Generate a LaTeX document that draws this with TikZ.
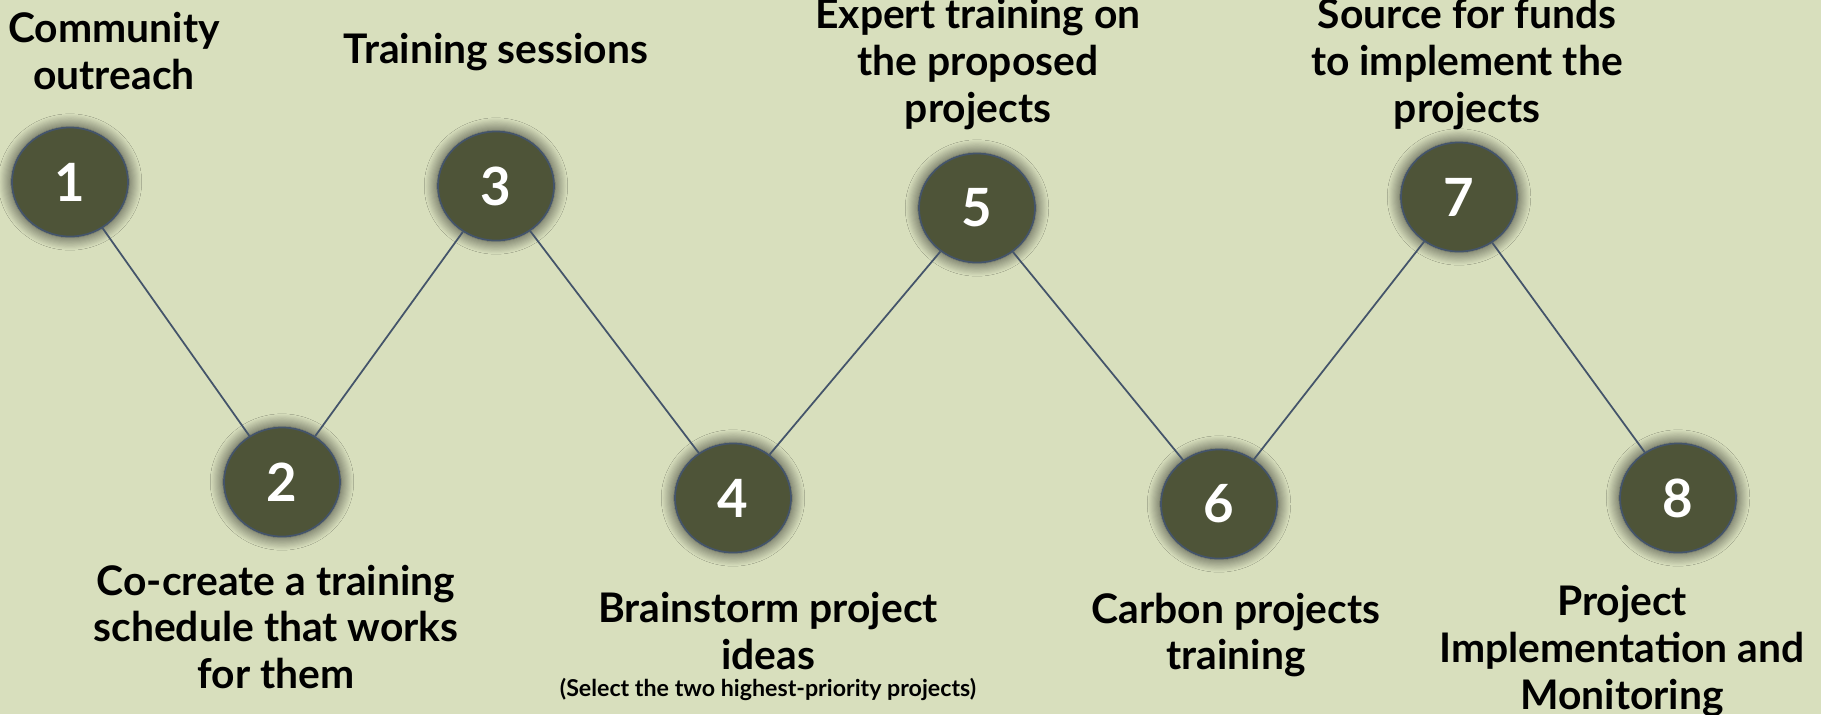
\documentclass[tikz,border=0pt]{standalone}
\usepackage{fontspec}
\setmainfont{Lato}
\usetikzlibrary{shapes.geometric,shadows.blur}
\definecolor{bgsage}{HTML}{D8DFBD}
\definecolor{stepolive}{HTML}{4E5438}
\definecolor{linkslate}{HTML}{44546A}
\tikzset{
  stepnode/.style={ellipse, draw=linkslate, line width=0.5pt, fill=stepolive, text=white,
    minimum width=1.16cm, minimum height=1.09cm, inner sep=0pt,
    font=\fontsize{15}{18}\selectfont\bfseries,
    blur shadow={shadow xshift=0pt, shadow yshift=0pt, shadow blur radius=3.5pt, shadow blur steps=12, shadow scale=1.02, shadow opacity=75}},
  steplabel/.style={align=center, text=black, inner sep=0pt, font=\fontsize{11.6}{13.3}\selectfont\bfseries},
  link/.style={draw=linkslate, line width=0.5pt}
}
\begin{document}
\begin{tikzpicture}[x=0.01cm, y=-0.01cm]
            \fill[bgsage] (0,0) rectangle (1821,714);
            \useasboundingbox (0,0) rectangle (1821,714);
            % steps
            \node[stepnode] (n1) at (70,182) {1};
            \node[stepnode] (n2) at (282,482) {2};
            \node[stepnode] (n3) at (496,186) {3};
            \node[stepnode] (n4) at (733,498) {4};
            \node[stepnode] (n5) at (977,208) {5};
            \node[stepnode] (n6) at (1219,504) {6};
            \node[stepnode] (n7) at (1459,197) {7};
            \node[stepnode] (n8) at (1678,498) {8};
            % zigzag
            \foreach \a/\b in {n1/n2, n2/n3, n3/n4, n4/n5, n5/n6, n6/n7, n7/n8}
                \draw[link] (\a) -- (\b);
            % labels
            \node[steplabel] (t1) at (114,51) {Community\\outreach};
            \node[steplabel] (t3) at (496,52) {Training sessions};
            \node[steplabel] (t5) at (978,64) {Expert training on\\the proposed\\projects};
            \node[steplabel] (t7) at (1467,64) {Source for funds\\to implement the\\projects};
            \node[steplabel] (t2) at (276,627) {Co-create a training\\schedule that works\\for them};
            \node[steplabel] (t4) at (768,631) {Brainstorm project\\ideas};
            \node[steplabel, font=\fontsize{6.6}{7.5}\selectfont\bfseries] (note) at (768,689) {(Select the two highest-priority projects)};
            \node[steplabel] (t6) at (1236,635) {Carbon projects\\training};
            \node[steplabel] (t8) at (1622,651) {Project\\Implementation and\\Monitoring};
\end{tikzpicture}
\end{document}
